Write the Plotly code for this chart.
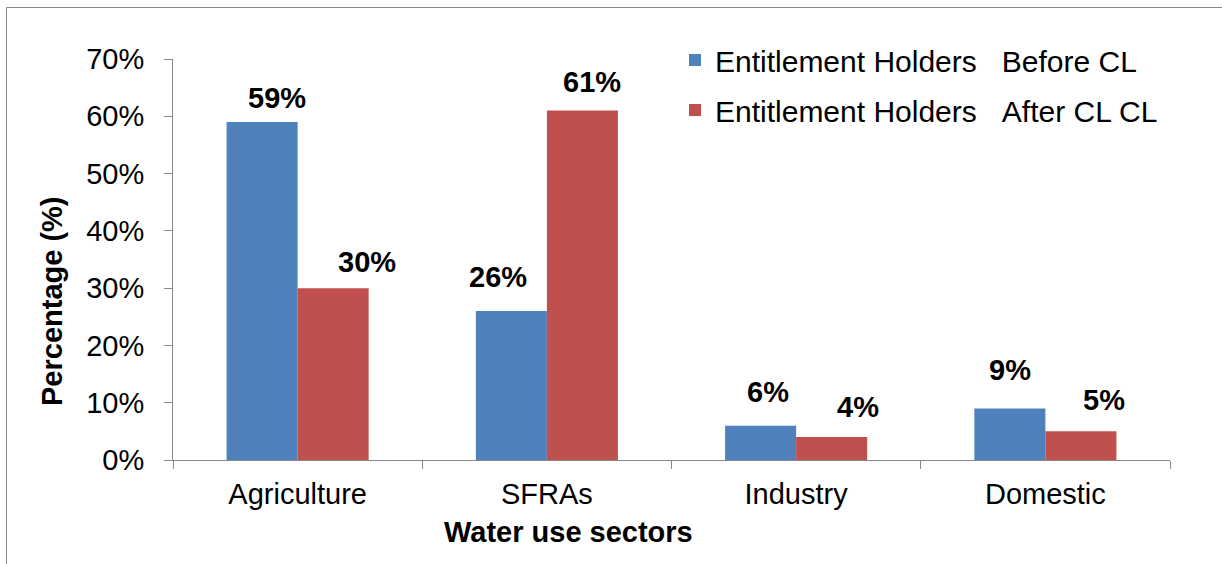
import plotly.graph_objects as go

# Water use sectors and share of entitlement holders (%)
sectors = ["Agriculture", "SFRAs", "Industry", "Domestic"]
before_cl = [59, 26, 6, 9]
after_cl = [30, 61, 4, 5]
series_names = [
    "Entitlement Holders\u00a0\u00a0\u00a0Before CL",
    "Entitlement Holders\u00a0\u00a0\u00a0After CL CL",
]
y_ticks = [0, 10, 20, 30, 40, 50, 60, 70]
y_tick_labels = [f"{v}%" for v in y_ticks]

# Layout geometry (pixels)
W, H = 1222, 564
ML, MR, MT, MB = 173, 52, 59, 104
PW, PH = W - ML - MR, H - MT - MB
BARGAP = 0.43
BAR_PX = PW / len(sectors) * (1 - BARGAP) / 2

# Hand-placed value label nudges (px): horizontal from bar centre, baseline gap above bar
label_dx = [[15, -13, 7, 0], [34, 10, 26, 23]]
label_dy = [[13, 23, 23, 27], [15, 18, 19, 20]]

FONT = "Liberation Sans, Arial, sans-serif"
FS = 29
BLUE, RED = "#4F81BD", "#C0504D"
AXIS_GREY = "#898989"


def px_to_paper_x(px):
    return (px - ML) / PW


def px_to_paper_y(py):
    return (H - MB - py) / PH


fig = go.Figure()
for i, (vals, color) in enumerate([(before_cl, BLUE), (after_cl, RED)]):
    fig.add_trace(go.Bar(
        x=sectors, y=vals, name=series_names[i],
        marker=dict(color=color, line=dict(width=0)),
        legendgroup=f"g{i}",
    ))

annotations = []
for i, vals in enumerate([before_cl, after_cl]):
    side = -1 if i == 0 else 1
    for j, v in enumerate(vals):
        annotations.append(dict(
            x=sectors[j], y=v, xref="x", yref="y",
            text=f"<b>{v}%</b>", showarrow=False,
            xanchor="center", yanchor="bottom",
            xshift=side * BAR_PX / 2 + label_dx[i][j],
            yshift=label_dy[i][j] - 7,
            font=dict(family=FONT, size=FS, color="#000000"),
        ))

# Axis titles
annotations.append(dict(
    x=px_to_paper_x(568), y=px_to_paper_y(532), xref="paper", yref="paper",
    text="<b>Water use sectors</b>", showarrow=False,
    xanchor="center", yanchor="middle",
    font=dict(family=FONT, size=FS, color="#000000"),
))
annotations.append(dict(
    x=px_to_paper_x(52), y=px_to_paper_y(301), xref="paper", yref="paper",
    text="<b>Percentage (%)</b>", showarrow=False, textangle=-90,
    xanchor="center", yanchor="middle",
    font=dict(family=FONT, size=FS, color="#000000"),
))

fig.update_layout(
    width=W, height=H,
    margin=dict(l=ML, r=MR, t=MT, b=MB, pad=0),
    paper_bgcolor="white", plot_bgcolor="white",
    barmode="group", bargap=BARGAP, bargroupgap=0,
    font=dict(family=FONT, size=FS, color="#000000"),
    showlegend=True,
    legend=dict(
        x=px_to_paper_x(675), y=px_to_paper_y(34),
        xanchor="left", yanchor="top",
        bgcolor="rgba(0,0,0,0)", borderwidth=0,
        font=dict(family=FONT, size=30, color="#000000"),
        tracegroupgap=8, traceorder="grouped",
    ),
    annotations=annotations,
    shapes=[dict(
        type="rect", xref="paper", yref="paper",
        x0=px_to_paper_x(6.5), x1=px_to_paper_x(W + 20),
        y0=px_to_paper_y(H + 20), y1=px_to_paper_y(7.5),
        line=dict(color=AXIS_GREY, width=1), fillcolor="rgba(0,0,0,0)",
        layer="below",
    )],
)

fig.update_xaxes(
    showline=True, linecolor=AXIS_GREY, linewidth=1,
    ticks="outside", tickson="boundaries", ticklen=8,
    tickcolor=AXIS_GREY, tickwidth=1,
    showgrid=False, zeroline=False,
    tickfont=dict(family=FONT, size=FS, color="#000000"),
    ticklabelstandoff=8,
)
fig.update_yaxes(
    range=[0, 70], tickmode="array", tickvals=y_ticks, ticktext=y_tick_labels,
    showline=True, linecolor=AXIS_GREY, linewidth=1,
    ticks="outside", ticklen=8, tickcolor=AXIS_GREY, tickwidth=1,
    showgrid=False, zeroline=False,
    tickfont=dict(family=FONT, size=FS, color="#000000"),
    ticklabelstandoff=14,
)

fig.write_html("out.html")
